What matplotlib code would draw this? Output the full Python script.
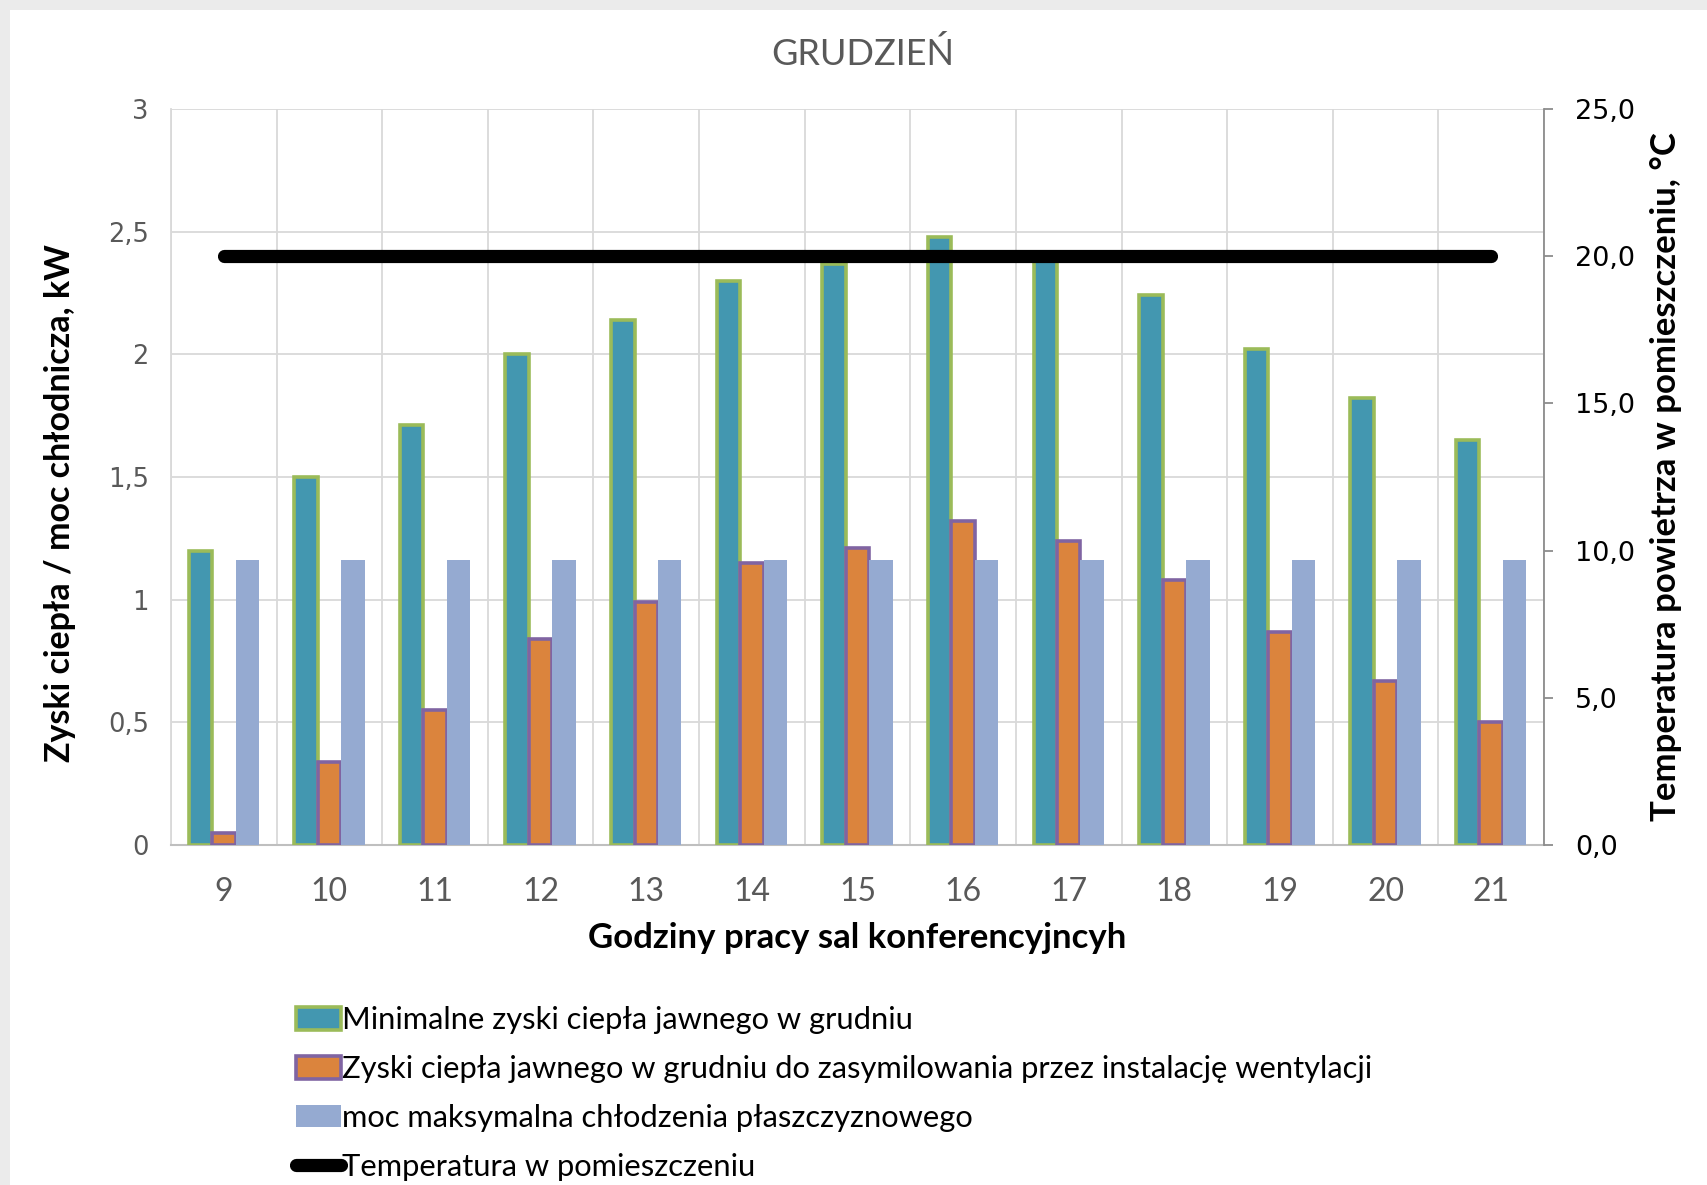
import matplotlib
matplotlib.use("Agg")
import matplotlib.pyplot as plt
import numpy as np
from matplotlib.patches import Patch, Rectangle
from matplotlib.lines import Line2D

# ---- data ----
hours = ["9", "10", "11", "12", "13", "14", "15", "16", "17", "18", "19", "20", "21"]
min_gains = [1.20, 1.50, 1.71, 2.00, 2.14, 2.30, 2.37, 2.48, 2.41, 2.24, 2.02, 1.82, 1.65]
vent_gains = [0.05, 0.34, 0.55, 0.84, 0.99, 1.15, 1.21, 1.32, 1.24, 1.08, 0.87, 0.67, 0.50]
max_cooling = [1.16] * 13
room_temp = [20.0] * 13

labels = [
    "Minimalne zyski ciepła jawnego w grudniu",
    "Zyski ciepła jawnego w grudniu do zasymilowania przez instalację wentylacji",
    "moc maksymalna chłodzenia płaszczyznowego",
    "Temperatura w pomieszczeniu",
]
left_ticks = [0, 0.5, 1, 1.5, 2, 2.5, 3]
left_ticklabels = ["0", "0,5", "1", "1,5", "2", "2,5", "3"]
right_ticks = [0, 5, 10, 15, 20, 25]
right_ticklabels = ["0,0", "5,0", "10,0", "15,0", "20,0", "25,0"]

TEAL = "#4397B0"
TEAL_EDGE = "#9BBB59"
ORANGE = "#DB843D"
ORANGE_EDGE = "#8064A2"
BLUE = "#95AAD1"
GRAY_TXT = "#595959"
GRID = "#D9D9D9"

CAL = ["Lato", "DejaVu Sans"]
VER = ["DejaVu Sans"]

W, H = 1707, 1185
fig = plt.figure(figsize=(W / 100, H / 100), dpi=100)

# screenshot edge strips (spreadsheet background)
fig.patches.append(Rectangle((0, 1 - 10 / H), 1, 10 / H, transform=fig.transFigure,
                             facecolor="#EBEBEB", edgecolor="none", zorder=0))
fig.patches.append(Rectangle((0, 0), 10 / W, 1, transform=fig.transFigure,
                             facecolor="#EBEBEB", edgecolor="none", zorder=0))

ax = fig.add_axes([171 / W, 1 - 845 / H, (1544 - 171) / W, (845 - 109) / H])
ax2 = ax.twinx()

x = np.arange(len(hours))
bw = 0.222
ax.bar(x - bw, min_gains, bw, color=TEAL, edgecolor=TEAL_EDGE, linewidth=2.6, zorder=3)
ax.bar(x, vent_gains, bw, color=ORANGE, edgecolor=ORANGE_EDGE, linewidth=2.6, zorder=3)
ax.bar(x + bw, max_cooling, bw, color=BLUE, edgecolor="none", zorder=3)

ax2.plot(x, room_temp, color="black", linewidth=9.5, solid_capstyle="round", zorder=4)

ax.set_xlim(-0.5, len(hours) - 0.5)
ax.set_ylim(0, 3)
ax2.set_ylim(0, 25)

# grid
ax.set_yticks(left_ticks)
ax.set_yticklabels(left_ticklabels, fontsize=18.5, color=GRAY_TXT, family=VER)
ax.yaxis.grid(True, color=GRID, linewidth=1.3, zorder=0)
ax.set_xticks(x)
ax.set_xticklabels(hours, fontsize=23, color=GRAY_TXT, family=CAL)
ax.set_xticks(np.arange(-0.5, len(hours), 1), minor=True)
ax.xaxis.grid(True, which="minor", color=GRID, linewidth=1.3, zorder=0)
ax.tick_params(axis="both", which="both", length=0)
ax.tick_params(axis="y", pad=16)
ax.tick_params(axis="x", pad=23)
ax.set_axisbelow(True)

for s in ["top"]:
    ax.spines[s].set_visible(False)
    ax2.spines[s].set_visible(False)
ax.spines["left"].set_color(GRID)
ax.spines["left"].set_linewidth(1.3)
ax.spines["bottom"].set_color("#BFBFBF")
ax.spines["bottom"].set_linewidth(1.5)
ax.spines["right"].set_visible(False)
ax2.spines["left"].set_visible(False)
ax2.spines["bottom"].set_visible(False)
ax2.spines["right"].set_color("#8C8C8C")
ax2.spines["right"].set_linewidth(1.3)

ax2.set_yticks(right_ticks)
ax2.set_yticklabels(right_ticklabels, fontsize=19.5, color="black", family=VER)
ax2.tick_params(axis="y", length=6.5, width=1.3, color="#8C8C8C", pad=16)

ax.set_ylabel("Zyski ciepła / moc chłodnicza, kW", fontsize=24.5, fontweight="bold",
              family=CAL)
ax.set_xlabel("Godziny pracy sal konferencyjncyh", fontsize=25, fontweight="bold",
              family=CAL)
ax2.set_ylabel("Temperatura powietrza w pomieszczeniu, °C", fontsize=25, fontweight="bold",
               family=CAL)
ax.yaxis.set_label_coords((60 - 171) / (1544 - 171), 0.5 - 26 / 736)
ax.xaxis.set_label_coords(0.5, -(938 - 845) / (845 - 109))
ax2.yaxis.set_label_coords((1666 - 171) / (1544 - 171), 0.5)
ax.yaxis.label.set_va("center")
ax.xaxis.label.set_va("center")
ax2.yaxis.label.set_va("center")

fig.text(863 / W, 1 - 54 / H, "GRUDZIEŃ", ha="center", va="center", fontsize=26,
         color=GRAY_TXT, family=CAL)

handles = [
    Patch(facecolor=TEAL, edgecolor=TEAL_EDGE, linewidth=2.6),
    Patch(facecolor=ORANGE, edgecolor=ORANGE_EDGE, linewidth=2.6),
    Patch(facecolor=BLUE, edgecolor="none"),
    Line2D([0], [0], color="black", linewidth=9.5, solid_capstyle="round"),
]
leg = fig.legend(handles, labels, loc="upper left", bbox_to_anchor=(296 / W, 1 - 1006 / H),
                 frameon=False, prop={"family": CAL, "size": 22.2}, handlelength=1.45,
                 handleheight=0.75, handletextpad=0.05, labelspacing=0.68,
                 borderaxespad=0, borderpad=0)

fig.savefig("out.png", dpi=100, facecolor="white")
